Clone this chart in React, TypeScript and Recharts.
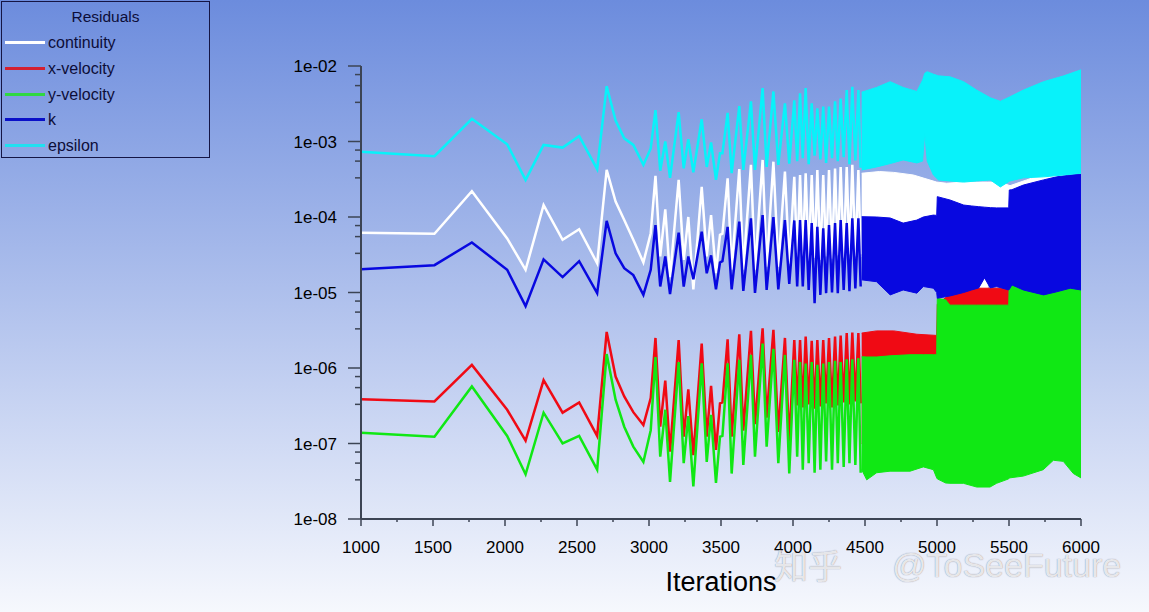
import { ComposedChart, Area, XAxis, YAxis } from "recharts";

// iterations where the residual history is read as individual points (spiky part)
const iterations = [
  1000, 1510, 1770, 2015, 2143, 2268, 2400, 2515, 2640, 2706, 2768, 2828, 2891, 2961,
  3012, 3045, 3078, 3113, 3146, 3206, 3241, 3273, 3308, 3366, 3401, 3431, 3465, 3493,
  3510, 3546, 3574, 3627, 3655, 3708, 3736, 3789, 3817, 3864, 3898, 3944, 3974, 4009,
  4029, 4049, 4068, 4088, 4109, 4130, 4150, 4169, 4190, 4210, 4230, 4250, 4271, 4292,
  4311, 4331, 4352, 4373, 4392, 4412, 4433, 4454, 4470,
];

const continuity = [
  6.2e-5, 6.0e-5, 2.2e-4, 5.2e-5, 2.0e-5, 1.44e-4, 5.0e-5, 6.9e-5, 2.44e-5, 4.2e-4, 1.6e-4, 9.1e-5, 5.0e-5, 2.5e-5,
  6.1e-5, 3.5e-4, 3.0e-5, 1.26e-4, 1.6e-5, 3.1e-4, 2.7e-5, 1.0e-4, 1.1e-5, 2.5e-4, 3.0e-5, 1.06e-4, 1.8e-5, 5.8e-5,
  6.0e-5, 3.25e-4, 2.0e-5, 4.3e-4, 2.0e-5, 4.9e-4, 2.0e-5, 5.7e-4, 2.2e-5, 5.4e-4, 2.2e-5, 4.0e-4, 2.4e-5, 3.4e-4,
  2.8e-5, 3.6e-4, 3.0e-5, 3.8e-4, 2.6e-5, 3.6e-4, 2.9e-5, 4.2e-4, 2.7e-5, 3.6e-4, 3.0e-5, 4.2e-4, 2.8e-5, 4.4e-4,
  3.1e-5, 4.6e-4, 2.9e-5, 4.6e-4, 3.2e-5, 4.9e-4, 3.0e-5, 4.2e-4, 3.2e-5,
];

const xVelocity = [
  3.85e-7, 3.6e-7, 1.1e-6, 2.8e-7, 1.09e-7, 6.9e-7, 2.56e-7, 3.5e-7, 1.26e-7, 3.0e-6, 7.7e-7, 4.2e-7, 2.6e-7, 1.76e-7,
  4.0e-7, 2.5e-6, 1.67e-7, 6.8e-7, 7.8e-8, 2.35e-6, 1.23e-7, 5.2e-7, 7.0e-8, 2.1e-6, 1.23e-7, 5.8e-7, 8.2e-8, 3.4e-7,
  3.5e-7, 2.4e-6, 1.23e-7, 2.8e-6, 1.48e-7, 3.1e-6, 1.8e-7, 3.35e-6, 2.2e-7, 3.2e-6, 1.42e-7, 2.5e-6, 1.06e-7, 2.35e-6,
  3.2e-7, 2.35e-6, 3.0e-7, 2.6e-6, 3.3e-7, 2.3e-6, 2.9e-7, 2.35e-6, 3.1e-7, 2.35e-6, 3.4e-7, 2.5e-6, 3.0e-7, 2.6e-6,
  3.2e-7, 2.7e-6, 3.5e-7, 2.9e-6, 3.3e-7, 2.95e-6, 3.6e-7, 2.9e-6, 3.4e-7,
];

const yVelocity = [
  1.39e-7, 1.23e-7, 5.7e-7, 1.26e-7, 3.9e-8, 2.56e-7, 1.0e-7, 1.26e-7, 4.5e-8, 1.53e-6, 3.8e-7, 1.67e-7, 9.1e-8, 5.7e-8,
  1.5e-7, 1.4e-6, 6.7e-8, 2.8e-7, 3.1e-8, 1.2e-6, 5.5e-8, 2.3e-7, 2.7e-8, 1.15e-6, 5.7e-8, 2.4e-7, 3.0e-8, 1.23e-7,
  1.26e-7, 1.15e-6, 4.0e-8, 1.28e-6, 5.2e-8, 1.49e-6, 6.7e-8, 2.1e-6, 9.1e-8, 1.8e-6, 5.5e-8, 1.49e-6, 4.0e-8, 1.28e-6,
  6.7e-8, 1.2e-6, 4.5e-8, 1.15e-6, 5.5e-8, 1.2e-6, 4.1e-8, 1.1e-6, 4.5e-8, 1.15e-6, 5.8e-8, 1.2e-6, 4.5e-8, 1.25e-6,
  5.5e-8, 1.2e-6, 4.9e-8, 1.3e-6, 5.5e-8, 1.3e-6, 5.2e-8, 1.35e-6, 4.1e-8,
];

const kResidual = [
  2.03e-5, 2.3e-5, 4.6e-5, 2.0e-5, 6.6e-6, 2.75e-5, 1.6e-5, 2.6e-5, 9.8e-6, 8.9e-5, 3.3e-5, 2.1e-5, 1.7e-5, 9.3e-6,
  2.0e-5, 7.8e-5, 1.2e-5, 3.0e-5, 9.5e-6, 6.2e-5, 1.2e-5, 3.0e-5, 1.5e-5, 6.4e-5, 1.8e-5, 3.1e-5, 1.1e-5, 2.5e-5,
  2.6e-5, 7.4e-5, 1.1e-5, 8.7e-5, 1.05e-5, 9.6e-5, 9.9e-6, 1.06e-4, 1.08e-5, 1.0e-4, 1.1e-5, 9.1e-5, 1.3e-5, 9.0e-5,
  1.2e-5, 9.1e-5, 1.2e-5, 9.1e-5, 1.08e-5, 8.3e-5, 7.2e-6, 7.4e-5, 9.3e-6, 7.1e-5, 9.8e-6, 7.8e-5, 1.0e-5, 8.3e-5,
  9.8e-6, 9.1e-5, 1.08e-5, 8.3e-5, 1.04e-5, 9.6e-5, 1.13e-5, 9.6e-5, 1.2e-5,
];

const epsilon = [
  7.3e-4, 6.4e-4, 2.0e-3, 9.2e-4, 3.1e-4, 9.0e-4, 8.3e-4, 1.18e-3, 4.3e-4, 5.4e-3, 1.9e-3, 1.1e-3, 9.0e-4, 4.9e-4,
  8.1e-4, 2.6e-3, 4.1e-4, 1.0e-3, 3.3e-4, 2.45e-3, 4.4e-4, 1.07e-3, 3.9e-4, 1.97e-3, 4.6e-4, 9.7e-4, 3.1e-4, 7.0e-4,
  7.0e-4, 2.4e-3, 3.8e-4, 2.95e-3, 4.2e-4, 3.4e-3, 4.2e-4, 5.1e-3, 4.6e-4, 4.6e-3, 4.9e-4, 3.2e-3, 5.1e-4, 3.5e-3,
  5.5e-4, 4.35e-3, 6.0e-4, 5.1e-3, 5.0e-4, 3.2e-3, 6.5e-4, 2.75e-3, 5.8e-4, 2.9e-3, 5.2e-4, 2.9e-3, 6.0e-4, 3.4e-3,
  5.5e-4, 3.7e-3, 6.2e-4, 4.8e-3, 5.0e-4, 5.3e-3, 5.6e-4, 4.8e-3, 4.5e-4,
];

// dense oscillation after ~4480 read as envelopes: [iteration, low, high]
const continuityBand = [
  [4477, 3.0e-5, 3.8e-4], [4600, 3.0e-5, 4.0e-4], [4700, 3.0e-5, 3.9e-4], [4836, 3.0e-5, 3.6e-4],
  [4998, 3.0e-5, 2.9e-4], [5067, 3.0e-5, 2.8e-4], [5183, 3.0e-5, 2.9e-4], [5265, 3.0e-5, 2.9e-4],
  [5290, 1.15e-5, 2.9e-4], [5350, 1.15e-5, 2.9e-4], [5375, 3.0e-5, 2.9e-4], [5438, 3.0e-5, 2.9e-4],
  [5507, 3.0e-5, 2.6e-4], [5623, 3.0e-5, 3.1e-4], [5715, 3.0e-5, 3.6e-4], [5785, 3.0e-5, 4.5e-4],
  [5831, 3.0e-5, 4.9e-4], [5877, 3.0e-5, 4.9e-4], [5924, 3.0e-5, 4.0e-4], [6000, 3.0e-5, 3.8e-4],
];

const xVelocityBand = [
  [4477, 1.0e-7, 2.9e-6], [4580, 1.0e-7, 3.1e-6], [4700, 1.0e-7, 3.1e-6], [4860, 1.0e-7, 2.8e-6],
  [4998, 1.0e-7, 2.7e-6], [5002, 1.0e-7, 7.0e-6], [5065, 1.0e-7, 8.7e-6], [5183, 1.0e-7, 1.08e-5],
  [5280, 1.0e-7, 1.14e-5], [5498, 1.0e-7, 1.14e-5], [5502, 1.0e-7, 5.0e-6], [6000, 1.0e-7, 5.0e-6],
];

const yVelocityBand = [
  [4477, 4.5e-8, 1.41e-6], [4512, 3.3e-8, 1.4e-6], [4581, 4.1e-8, 1.4e-6], [4674, 4.3e-8, 1.45e-6],
  [4813, 4.3e-8, 1.5e-6], [4905, 4.9e-8, 1.5e-6], [4975, 4.5e-8, 1.5e-6], [4998, 3.5e-8, 1.5e-6],
  [5002, 3.4e-8, 8.4e-6], [5060, 3.0e-8, 8.0e-6], [5090, 2.97e-8, 6.8e-6], [5183, 2.97e-8, 6.8e-6],
  [5276, 2.65e-8, 6.8e-6], [5368, 2.65e-8, 6.8e-6], [5414, 2.97e-8, 6.8e-6], [5498, 3.4e-8, 6.8e-6],
  [5502, 3.5e-8, 1.3e-5], [5599, 3.7e-8, 1.2e-5], [5738, 4.5e-8, 1.05e-5], [5808, 6.0e-8, 1.1e-5],
  [5877, 5.8e-8, 1.15e-5], [5947, 4.0e-8, 1.2e-5], [6000, 3.5e-8, 1.2e-5],
];

const kBand = [
  [4477, 1.47e-5, 1.01e-4], [4580, 1.39e-5, 1.0e-4], [4675, 9.3e-6, 9.7e-5], [4765, 1.08e-5, 8.3e-5],
  [4860, 9.8e-6, 9.1e-5], [4905, 1.2e-5, 1.0e-4], [4975, 1.14e-5, 1.06e-4], [4998, 1.0e-5, 1.05e-4],
  [5002, 8.4e-6, 1.86e-4], [5090, 9.0e-6, 1.68e-4], [5185, 1.0e-5, 1.44e-4], [5240, 1.08e-5, 1.4e-4],
  [5290, 1.15e-5, 1.37e-4], [5330, 1.56e-5, 1.35e-4], [5370, 1.15e-5, 1.33e-4], [5414, 1.2e-5, 1.32e-4],
  [5498, 1.08e-5, 1.32e-4], [5502, 1.1e-5, 2.28e-4], [5520, 1.26e-5, 2.3e-4], [5600, 1.08e-5, 2.65e-4],
  [5740, 9.3e-6, 3.1e-4], [5830, 1.02e-5, 3.4e-4], [5925, 1.14e-5, 3.6e-4], [6000, 1.08e-5, 3.7e-4],
];

const epsilonBand = [
  [4477, 4.2e-4, 4.5e-3], [4580, 4.6e-4, 5.2e-3], [4675, 5.1e-4, 6.2e-3], [4765, 5.7e-4, 5.2e-3],
  [4860, 5.2e-4, 4.6e-3], [4900, 5.5e-4, 6.5e-3], [4915, 1.3e-3, 8.0e-3], [4932, 5.5e-4, 8.4e-3],
  [4975, 3.6e-4, 7.8e-3], [5010, 3.1e-4, 7.4e-3], [5090, 3.0e-4, 7.2e-3], [5185, 2.9e-4, 6.2e-3],
  [5275, 3.0e-4, 4.8e-3], [5370, 3.1e-4, 3.8e-3], [5440, 2.5e-4, 3.4e-3], [5505, 3.0e-4, 3.9e-3],
  [5600, 3.3e-4, 4.8e-3], [5740, 3.4e-4, 6.2e-3], [5880, 3.6e-4, 7.4e-3], [6000, 3.8e-4, 8.9e-3],
];

const xTicks = [1000, 1250, 1500, 1750, 2000, 2250, 2500, 2750, 3000, 3250, 3500, 3750, 4000, 4250, 4500, 4750, 5000, 5250, 5500, 5750, 6000];
const yMajorTicks = [1e-8, 1e-7, 1e-6, 1e-5, 1e-4, 1e-3, 1e-2];
const yTickLabels = ["1e-08", "1e-07", "1e-06", "1e-05", "1e-04", "1e-03", "1e-02"];
const yMinorTicks = [
  3.3e-8, 5.5e-8, 7.7e-8, 3.3e-7, 5.5e-7, 7.7e-7, 3.3e-6, 5.5e-6, 7.7e-6,
  3.3e-5, 5.5e-5, 7.7e-5, 3.3e-4, 5.5e-4, 7.7e-4, 3.3e-3, 5.5e-3, 7.7e-3,
];

const series = [
  { key: "continuity", color: "#ffffff", legend: "#ffffff", values: continuity, band: continuityBand },
  { key: "x-velocity", color: "#f00a14", legend: "#d42030", values: xVelocity, band: xVelocityBand },
  { key: "y-velocity", color: "#10e814", legend: "#30d840", values: yVelocity, band: yVelocityBand },
  { key: "k", color: "#0808e0", legend: "#0a10c8", values: kResidual, band: kBand },
  { key: "epsilon", color: "#08f2fa", legend: "#20e0f0", values: epsilon, band: epsilonBand },
];

const lineData = iterations.map((iter, i) => {
  const row: any = { iter };
  series.forEach((s) => (row[s.key] = s.values[i]));
  return row;
});

const font = '"Liberation Sans", Arial, sans-serif';
const axisColor = "#3c4454";

const YTick = ({ y, payload }: any) => {
  const idx = yMajorTicks.indexOf(payload.value);
  const major = idx >= 0;
  return (
    <g>
      <line x1={major ? 348 : 355} x2={361} y1={y} y2={y} stroke={axisColor} strokeWidth={1.5} />
      {major && (
        <text x={337} y={y} dy="0.36em" textAnchor="end" fontSize={17} fontFamily={font} fill="#000">
          {yTickLabels[idx]}
        </text>
      )}
    </g>
  );
};

const XTick = ({ x, payload }: any) => {
  const major = payload.value % 500 === 0;
  return (
    <g>
      <line x1={x} x2={x} y1={519} y2={major ? 526 : 522} stroke={axisColor} strokeWidth={1.5} />
      {major && (
        <text x={x} y={553} textAnchor="middle" fontSize={17} fontFamily={font} fill="#000">
          {payload.value}
        </text>
      )}
    </g>
  );
};

export default function App() {
  return (
    <div
      style={{
        position: "fixed",
        left: 0,
        top: 0,
        width: 1149,
        height: 612,
        overflow: "hidden",
        background: "linear-gradient(to bottom, #6c8cdd 0%, #f6f8fd 100%)",
        fontFamily: font,
      }}
    >
      <ComposedChart width={1149} height={612} margin={{ top: 66, right: 68, bottom: 0, left: 0 }}>
        <XAxis
          dataKey="iter"
          type="number"
          domain={[1000, 6000]}
          ticks={xTicks}
          interval={0}
          height={93}
          tickLine={false}
          axisLine={{ stroke: axisColor, strokeWidth: 2 }}
          tick={<XTick />}
          allowDataOverflow
        />
        <YAxis
          type="number"
          scale="log"
          domain={[1e-8, 1e-2]}
          ticks={[...yMajorTicks, ...yMinorTicks]}
          interval={0}
          width={361}
          tickLine={false}
          axisLine={{ stroke: axisColor, strokeWidth: 2 }}
          tick={<YTick />}
          allowDataOverflow
        />
        {series.map((s) => [
          <Area
            key={s.key + "-band"}
            data={s.band.map(([iter, low, high]) => ({ iter, range: [low, high] }))}
            dataKey="range"
            type="linear"
            stroke={s.color}
            strokeWidth={1}
            fill={s.color}
            fillOpacity={1}
            activeDot={false}
            isAnimationActive={false}
          />,
          <Area
            key={s.key}
            data={lineData}
            dataKey={s.key}
            type="linear"
            stroke={s.color}
            strokeWidth={2.5}
            fill="none"
            activeDot={false}
            isAnimationActive={false}
          />,
        ])}
      </ComposedChart>

      <div
        style={{
          position: "absolute",
          left: 1,
          top: 1,
          width: 207,
          height: 155,
          border: "1px solid #151544",
          color: "#0d0d38",
        }}
      >
        <div style={{ position: "absolute", left: 0, right: 0, top: 6, textAlign: "center", fontSize: 15.5 }}>
          Residuals
        </div>
        {series.map((s, i) => (
          <div key={s.key} style={{ position: "absolute", left: 0, top: 31 + i * 25.8, height: 20, width: 200 }}>
            <div style={{ position: "absolute", left: 3, top: 8, width: 40, height: 3, background: s.legend }} />
            <div style={{ position: "absolute", left: 46, top: 0, fontSize: 16, lineHeight: "20px" }}>{s.key}</div>
          </div>
        ))}
      </div>

      <div style={{ position: "absolute", left: 0, width: 1442, top: 566, textAlign: "center", fontSize: 27, color: "#000", lineHeight: "32px" }}>
        Iterations
      </div>

      <div
        style={{
          position: "absolute",
          left: 774,
          top: 545,
          fontSize: 34,
          lineHeight: "40px",
          fontFamily: '"Noto Sans CJK SC", sans-serif',
          color: "rgba(255,255,255,0.82)",
          textShadow: "0 0 1px rgba(70,70,90,0.7)",
        }}
      >
        知乎
      </div>
      <div
        style={{
          position: "absolute",
          left: 892,
          top: 545,
          fontSize: 34,
          lineHeight: "40px",
          color: "rgba(255,255,255,0.82)",
          textShadow: "0 0 1px rgba(70,70,90,0.7)",
        }}
      >
        @ToSeeFuture
      </div>
    </div>
  );
}
